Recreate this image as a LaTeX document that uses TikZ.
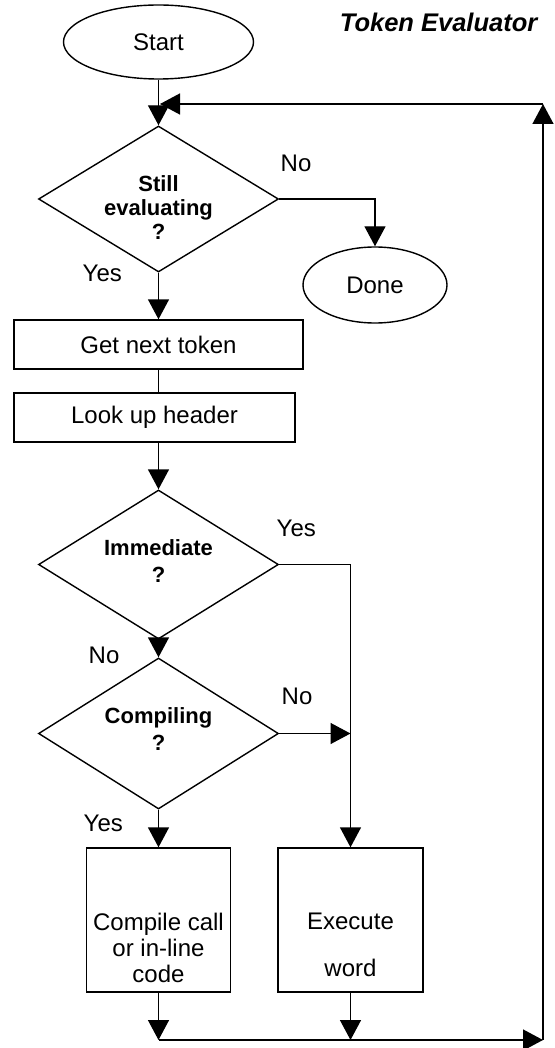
\documentclass[tikz,border=0pt]{standalone}
\usepackage{fontspec}
\setmainfont{Liberation Sans}
\usetikzlibrary{shapes.geometric,arrows.meta}
\begin{document}
\begin{tikzpicture}[x=1pt,y=-1pt,
  line width=1.4pt,
  arr/.style={-{Triangle[length=20pt,width=21pt]}},
  txt/.style={font=\fontsize{24}{26}\selectfont, inner sep=0pt},
  btxt/.style={font=\bfseries\fontsize{22}{27}\selectfont, inner sep=0pt, align=center},
  terminal/.style={draw, ellipse, inner sep=0pt, txt},
  procbox/.style={draw, rectangle, inner sep=0pt},
  decision/.style={draw, diamond, inner sep=0pt},
  lbl/.style={txt, anchor=base west}]
\useasboundingbox (0,0) rectangle (554,1048);

% terminals and title
\node[terminal, minimum width=190pt, minimum height=74pt] (start) at (158.5,42) {Start};
\node[font=\bfseries\itshape\fontsize{25.5}{30}\selectfont, anchor=base east, inner sep=0pt] (title) at (538,32) {Token Evaluator};

% decision 1
\node[decision, minimum width=240pt, minimum height=146pt] (d1) at (158.5,199) {};
\node[btxt, font=\bfseries\fontsize{22}{24}\selectfont] (d1t) at (158.5,208) {Still\\evaluating\\?};
\node[terminal, minimum width=144pt, minimum height=76pt] (done) at (375,285) {Done};

% process boxes
\node[procbox, txt, minimum width=289pt, minimum height=49pt] (get) at (158.5,344.5) {Get next token};
\node[procbox, txt, minimum width=281pt, minimum height=49pt] (look) at (154.5,417.5) {Look up header};

% decisions 2 and 3
\node[decision, minimum width=240pt, minimum height=149pt] (d2) at (158.5,564.5) {};
\node[btxt] (d2t) at (158.5,561) {Immediate\\?};
\node[decision, minimum width=240pt, minimum height=151pt] (d3) at (158.5,733.5) {};
\node[btxt] (d3t) at (158.5,729) {Compiling\\?};

% bottom boxes
\node[procbox, minimum width=144pt, minimum height=144pt] (comp) at (158.5,920) {};
\node[txt, align=center] (compt) at (158.5,948) {Compile call\\or in-line\\code};
\node[procbox, minimum width=145pt, minimum height=144pt] (exec) at (350.5,920) {};
\node[txt, align=center] (exect) at (350.5,945) {Execute\\[21pt]word};

% labels
\node[lbl] (no1) at (280,172) {No};
\node[lbl] (yes1) at (82,282) {Yes};
\node[lbl] (yes2) at (276,536) {Yes};
\node[lbl] (no2) at (88,663) {No};
\node[lbl] (no3) at (281,704) {No};
\node[lbl] (yes3) at (83,831) {Yes};

% loop coordinates
\coordinate (bl) at (158.5,1040);
\coordinate (br) at (543,1040);
\coordinate (tr) at (543,104);
\coordinate (tl) at (160,104);

% connectors
\draw[arr] (start.south) -- (d1.north);
\draw[arr] (d1.east) -| (done.north);
\draw[arr] (d1.south) -- (get.north);
\draw (get.south) -- (get.south |- look.north);
\draw[arr] (d2.north |- look.south) -- (d2.north);
\draw[arr] (d2.south) -- (d3.north);
\draw[arr] (d2.east) -| (exec.north);
\coordinate (j) at (exec.north |- d3.east);
\draw[arr] (d3.east) -- (j);
\draw[arr] (d3.south) -- (comp.north);
\draw[arr] (comp.south) -- (comp.south |- bl);
\draw[arr] (exec.south) -- (exec.south |- bl);
\draw[arr] (bl) -- (br);
\draw[arr] (br) -- (tr);
\draw[arr] (tr) -- (tl);
\end{tikzpicture}
\end{document}
